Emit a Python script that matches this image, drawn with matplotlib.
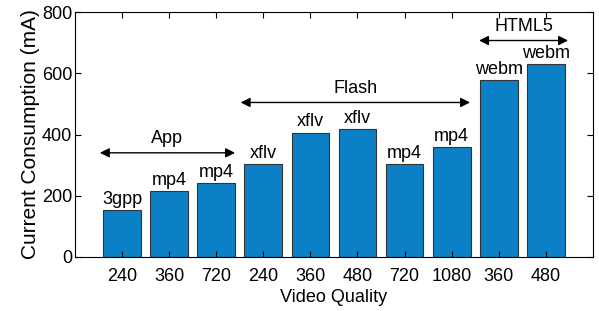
import matplotlib
matplotlib.use("Agg")
import matplotlib.pyplot as plt

plt.rcParams['font.family'] = ['Liberation Sans', 'DejaVu Sans']

qualities = ["240", "360", "720", "240", "360", "480", "720", "1080", "360", "480"]
formats = ["3gpp", "mp4", "mp4", "xflv", "xflv", "xflv", "mp4", "mp4", "webm", "webm"]
current = [152, 214, 240, 303, 406, 417, 303, 359, 577, 630]

# groups: name, arrow span on the x axis, arrow height
groups = ["App", "Flash", "HTML5"]
group_span = [(0.53, 3.4), (3.52, 8.39), (8.58, 10.47)]
group_y = [340, 505, 708]

fig, ax = plt.subplots(figsize=(5.99, 3.11), dpi=100)
fig.subplots_adjust(left=0.125, right=0.99, top=0.96, bottom=0.175)

pos = list(range(1, len(current) + 1))
ax.bar(pos, current, width=0.8, color='#0b80c6', edgecolor='#333333', linewidth=0.8)

for x, v, f in zip(pos, current, formats):
    ax.text(x, v + 8, f, ha='center', va='bottom', fontsize=13)

for name, (x0, x1), y in zip(groups, group_span, group_y):
    ax.annotate('', xy=(x0, y), xytext=(x1, y),
                arrowprops=dict(arrowstyle='<|-|>', color='black', lw=1,
                                mutation_scale=14, shrinkA=0, shrinkB=0))
    ax.text((x0 + x1) / 2, y + 18, name, ha='center', va='bottom', fontsize=13)

ax.set_xlim(0, 11)
ax.set_ylim(0, 800)
ax.set_xticks(pos)
ax.set_xticklabels(qualities)
ax.set_yticks([0, 200, 400, 600, 800])
ax.tick_params(direction='in', top=True, right=True, labelsize=13, length=4)
ax.tick_params(axis='x', pad=8)
ax.tick_params(axis='y', pad=2)
ax.set_xlabel("Video Quality", fontsize=13, labelpad=3)
ax.set_ylabel("Current Consumption (mA)", fontsize=15, labelpad=1)

fig.savefig("out.png", dpi=100)
